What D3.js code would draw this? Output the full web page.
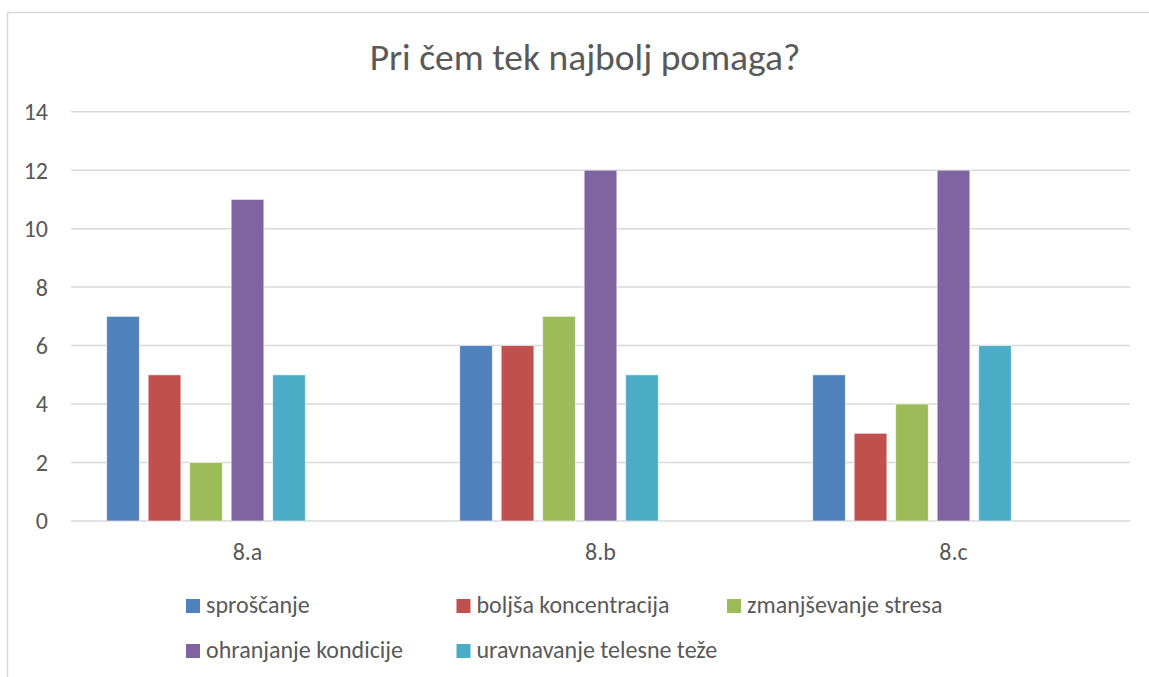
<!DOCTYPE html>
<html>
<head>
<meta charset="utf-8">
<script src="https://cdn.jsdelivr.net/npm/d3@7"></script>
<style>
    body { margin: 0; background: #fff; }
    text { font-family: Carlito, Calibri, Lato, sans-serif; fill: #595959; }
</style>
</head>
<body>
<div id="chart"></div>
<script>
var title = "Pri čem tek najbolj pomaga?";
var categories = ["8.a", "8.b", "8.c"];
var seriesNames = ["sproščanje", "boljša koncentracija", "zmanjševanje stresa", "ohranjanje kondicije", "uravnavanje telesne teže"];
var sproscanje = [7, 6, 5];
var koncentracija = [5, 6, 3];
var stres = [2, 7, 4];
var kondicija = [11, 12, 12];
var teza = [5, 5, 6];
var yTicks = [0, 2, 4, 6, 8, 10, 12, 14];
var palette = ["#4f81bd", "#c0504d", "#9bbb59", "#8064a2", "#4bacc6"];

var seriesValues = [sproscanje, koncentracija, stres, kondicija, teza];
var width = 1149, height = 677;

var svg = d3.select("#chart").append("svg")
    .attr("width", width)
    .attr("height", height);

// chart frame (only left + top edges visible in the crop)
svg.append("path")
    .attr("d", "M7.5," + height + "V12.5H" + width)
    .attr("fill", "none")
    .attr("stroke", "#d9d9d9")
    .attr("stroke-width", 1.5);

svg.append("text")
    .attr("x", 585)
    .attr("y", 70)
    .attr("text-anchor", "middle")
    .style("font-size", "37.5px")
    .text(title);

var x0 = d3.scaleBand()
    .domain(categories)
    .range([71, 1130]);

// the source sheet had 7 series columns, the last two empty
var x1 = d3.scaleBand()
    .domain(d3.range(seriesNames.length + 2))
    .range([0, x0.bandwidth()])
    .paddingInner(0.212)
    .paddingOuter(0.86);

var y = d3.scaleLinear()
    .domain([0, 14])
    .range([521, 111.7]);

var color = d3.scaleOrdinal()
    .domain(seriesNames)
    .range(palette);

// gridlines
svg.append("g")
    .selectAll("line")
    .data(yTicks)
    .enter()
    .append("line")
    .attr("x1", 71)
    .attr("x2", 1130)
    .attr("y1", d => y(d))
    .attr("y2", d => y(d))
    .attr("stroke", "#d9d9d9")
    .attr("stroke-width", 1.5);

svg.append("g")
    .selectAll("text")
    .data(yTicks)
    .enter()
    .append("text")
    .attr("x", 48)
    .attr("y", d => y(d))
    .attr("dy", "0.35em")
    .attr("text-anchor", "end")
    .style("font-size", "24px")
    .text(d => d);

// bars
var group = svg.append("g")
    .selectAll(".cat")
    .data(categories)
    .enter()
    .append("g")
    .attr("class", "cat")
    .attr("transform", d => "translate(" + x0(d) + ",0)");

group.selectAll("rect")
    .data((c, ci) => seriesNames.map((s, si) => ({ series: s, idx: si, value: seriesValues[si][ci] })))
    .enter()
    .append("rect")
    .attr("x", d => x1(d.idx))
    .attr("width", x1.bandwidth())
    .attr("y", d => y(d.value))
    .attr("height", d => y(0) - y(d.value))
    .attr("fill", d => color(d.series))
    .attr("stroke", "rgba(255,255,255,0.6)")
    .attr("stroke-width", 1);

// category labels
svg.append("g")
    .selectAll("text")
    .data(categories)
    .enter()
    .append("text")
    .attr("x", d => x0(d) + x0.bandwidth() / 2)
    .attr("y", 560)
    .attr("text-anchor", "middle")
    .style("font-size", "24px")
    .text(d => d);

// legend, 3 per row
var legend = svg.append("g")
    .selectAll(".leg")
    .data(seriesNames)
    .enter()
    .append("g")
    .attr("class", "leg")
    .attr("transform", (d, i) => "translate(" + (186 + (i % 3) * 270.5) + "," + (599 + Math.floor(i / 3) * 45) + ")");

legend.append("rect")
    .attr("width", 14)
    .attr("height", 14)
    .attr("fill", d => color(d));

legend.append("text")
    .attr("x", 20)
    .attr("y", 14)
    .style("font-size", "24px")
    .text(d => d);
</script>
</body>
</html>
